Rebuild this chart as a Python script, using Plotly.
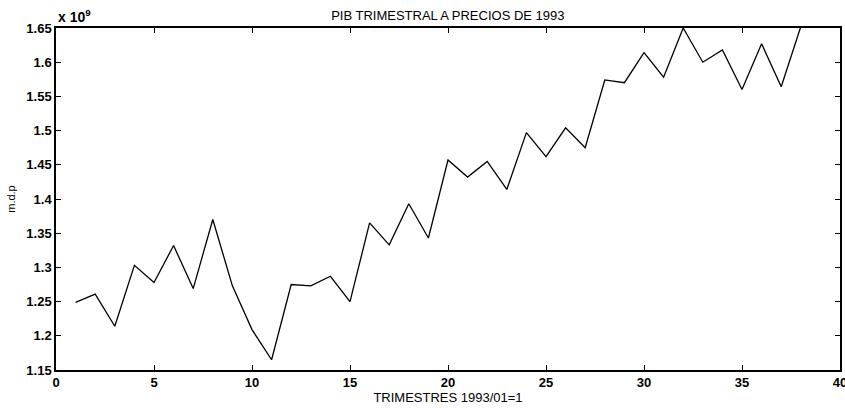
import plotly.graph_objects as go

# Quarter index (1993/01 = 1)
quarters = list(range(1, 39))
# PIB trimestral a precios de 1993, in units of 1e9 (m.d.p)
pib = [1.249, 1.261, 1.214, 1.303, 1.278, 1.332, 1.269, 1.370, 1.273, 1.209,
       1.165, 1.275, 1.273, 1.287, 1.250, 1.365, 1.333, 1.393, 1.343, 1.457,
       1.432, 1.455, 1.414, 1.497, 1.462, 1.504, 1.475, 1.574, 1.570, 1.614,
       1.578, 1.650, 1.600, 1.618, 1.560, 1.627, 1.564, 1.652]

x_ticks = [0, 5, 10, 15, 20, 25, 30, 35, 40]
y_ticks = [1.15, 1.2, 1.25, 1.3, 1.35, 1.4, 1.45, 1.5, 1.55, 1.6, 1.65]
y_ticklabels = ["1.15", "1.2", "1.25", "1.3", "1.35", "1.4", "1.45", "1.5", "1.55", "1.6", "1.65"]

FONT = "Liberation Sans, Arial, sans-serif"

fig = go.Figure()
fig.add_trace(go.Scatter(x=quarters, y=pib, mode="lines",
                         line=dict(color="black", width=1.3),
                         showlegend=False, cliponaxis=True))

axis_common = dict(showline=True, linecolor="black", linewidth=1.5, mirror="ticks",
                   ticks="inside", ticklen=5, tickwidth=1.2, tickcolor="black",
                   showgrid=False, zeroline=False, automargin=False,
                   ticklabeloverflow="allow",
                   tickfont=dict(family=FONT, size=13, color="black", weight="bold"))

fig.update_layout(
    width=845, height=408,
    margin=dict(l=56, r=5, t=28, b=38),
    paper_bgcolor="white", plot_bgcolor="white",
    title=dict(text="PIB TRIMESTRAL A PRECIOS DE 1993", x=0.53, xanchor="center",
               y=0.963, yanchor="middle",
               font=dict(family=FONT, size=13, color="black")),
    xaxis=dict(range=[0, 40], tickvals=x_ticks,
               title=dict(text="TRIMESTRES 1993/01=1", standoff=3,
                          font=dict(family=FONT, size=13, color="black")),
               **axis_common),
    yaxis=dict(range=[1.15, 1.65], tickvals=y_ticks, ticktext=y_ticklabels,
               title=dict(text="m.d.p", standoff=8,
                          font=dict(family=FONT, size=11, color="black")),
               **axis_common),
    annotations=[dict(text="<b>x 10<sup>9</sup></b>", xref="paper", yref="paper",
                      x=0.0, y=1.0, xanchor="left", yanchor="bottom",
                      showarrow=False, yshift=1,
                      font=dict(family=FONT, size=14, color="black"))],
)

fig.write_html("out.html")
